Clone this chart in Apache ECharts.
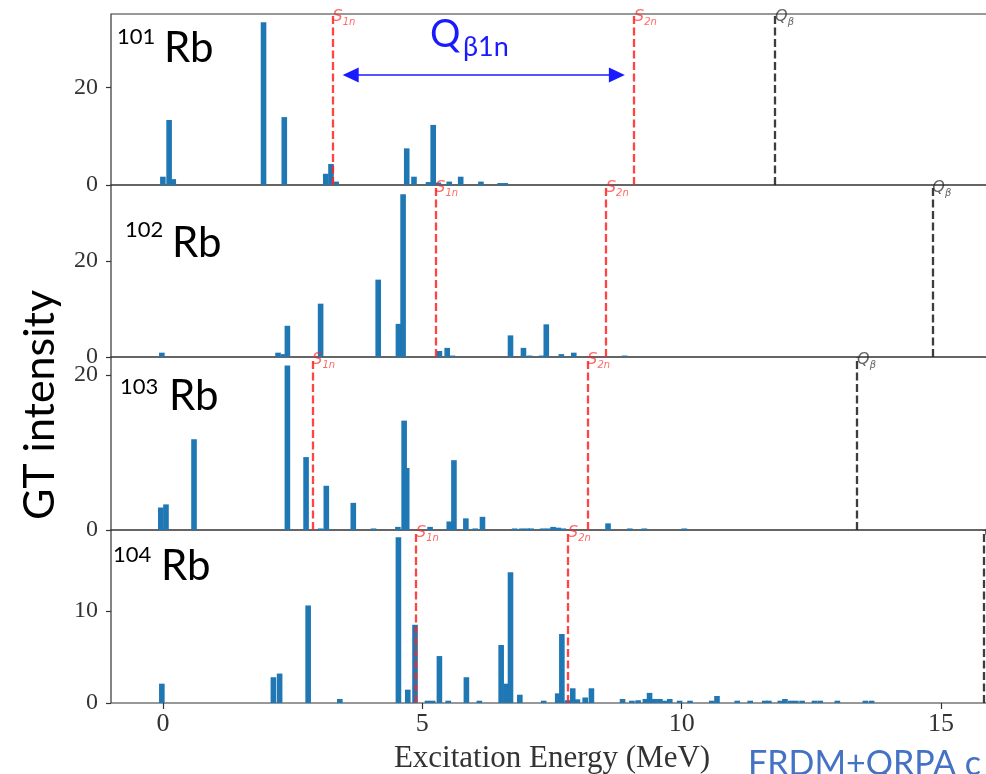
<!DOCTYPE html>
<html><head><meta charset="utf-8">
<script src="https://cdn.jsdelivr.net/npm/echarts@6/dist/echarts.min.js"></script>
<style>html,body{margin:0;padding:0;background:#fff}#c{width:986px;height:774px}</style>
</head><body><div id="c"></div>
<script>
// ---- data ----
const xTicks = [0, 5, 10, 15];
const massNumbers = ['101', '102', '103', '104'];

const rb101X = [0.0, 0.12, 0.2, 1.94, 2.34, 3.14, 3.24, 3.34, 4.70, 4.84, 5.12, 5.21, 5.31, 5.52, 5.74, 6.13, 6.50, 6.60];
const rb101Y = [1.7, 13.3, 1.2, 33.3, 13.9, 2.3, 4.3, 0.7, 7.5, 1.7, 0.6, 12.3, 0.5, 0.7, 1.7, 0.7, 0.4, 0.4];

const rb102X = [-0.02, 2.22, 2.33, 2.40, 3.04, 4.15, 4.54, 4.63, 5.33, 5.48, 5.58, 6.70, 6.95, 7.07, 7.30, 7.39, 7.68, 7.92, 8.90];
const rb102Y = [0.9, 0.9, 0.6, 6.5, 11.1, 16.1, 6.9, 33.9, 1.25, 1.9, 0.3, 4.5, 1.9, 0.3, 0.3, 6.8, 0.6, 0.9, 0.3];

const rb103X = [-0.04, 0.06, 0.60, 2.40, 2.76, 3.04, 3.15, 3.67, 4.06, 4.53, 4.65, 4.70, 5.15, 5.52, 5.61, 5.84, 6.02, 6.16, 6.78, 6.92, 7.02, 7.10, 7.32, 7.42, 7.52, 7.62, 7.72, 8.58, 9.00, 9.28, 10.05];
const rb103Y = [2.9, 3.3, 11.7, 21.2, 9.4, 0.2, 5.7, 3.5, 0.2, 0.4, 14.1, 8.0, 0.4, 1.1, 9.0, 1.5, 0.2, 1.7, 0.2, 0.2, 0.2, 0.2, 0.2, 0.2, 0.4, 0.3, 0.2, 0.86, 0.2, 0.2, 0.2];

const rb104X = [-0.02, 2.13, 2.25, 2.80, 3.41, 4.54, 4.72, 4.86, 5.10, 5.20, 5.33, 5.50, 5.85, 6.10, 6.52, 6.62, 6.70, 6.88, 7.34, 7.61, 7.69, 7.80, 7.90, 7.99, 8.14, 8.26, 8.86, 9.04, 9.16, 9.30, 9.38, 9.48, 9.58, 9.68, 9.77, 9.96, 10.16, 10.58, 10.68, 11.07, 11.32, 11.60, 11.68, 11.90, 11.99, 12.10, 12.20, 12.32, 12.56, 12.67, 13.00, 13.54, 13.66];
const rb104Y = [2.1, 2.8, 3.2, 10.6, 0.44, 18.0, 1.45, 8.5, 0.25, 0.25, 5.1, 0.25, 2.8, 0.25, 6.3, 2.1, 14.2, 0.9, 0.25, 1.05, 7.5, 0.3, 1.6, 0.4, 0.6, 1.6, 0.44, 0.25, 0.3, 0.44, 1.1, 0.44, 0.44, 0.25, 0.44, 0.25, 0.25, 0.25, 0.76, 0.25, 0.25, 0.25, 0.25, 0.25, 0.44, 0.25, 0.25, 0.25, 0.25, 0.25, 0.25, 0.25, 0.25];

const s1n = [3.27, 5.25, 2.88, 4.88];
const s2n = [9.08, 8.54, 8.18, 7.81];
const qBeta = [11.80, 14.83, 13.38, 15.83];
const yMax = [35.0, 35.8, 22.3, 18.8];
const yTicks = [[0, 20], [0, 20], [0, 20], [0, 10]];
const qb1nArrow = [3.62, 8.75, 22.5]; // from, to (MeV), height (panel 1)

// ---- layout ----
const xs = [rb101X, rb102X, rb103X, rb104X];
const ys = [rb101Y, rb102Y, rb103Y, rb104Y];
const gridTops = [14, 185, 357, 530];
const gridHeights = [171, 172, 173, 173];
const GL = 111, GW = 882;
const barColor = '#1f77b4';
const red = 'rgba(255,35,35,0.85)';
const gray = 'rgba(40,40,40,0.9)';
const serif = 'Liberation Serif';
const sans = 'Lato';

const chart = echarts.init(document.getElementById('c'), null, {renderer: 'canvas'});

const grids = [], xAxes = [], yAxes = [], series = [];
for (let i = 0; i < 4; i++) {
  grids.push({left: GL, top: gridTops[i], width: GW, height: gridHeights[i], show: true,
    borderColor: '#333', borderWidth: 1.2, backgroundColor: 'transparent',
    containLabel: false, outerBoundsMode: 'none'});
  const last = i === 3;
  xAxes.push({type: 'value', gridIndex: i, min: -1.0, max: 16.0,
    axisLine: {show: false, onZero: false}, splitLine: {show: false},
    axisTick: {show: last, inside: false, length: 6, lineStyle: {color: '#333', width: 1.2}, customValues: xTicks},
    axisLabel: {show: last, customValues: xTicks, fontFamily: serif, fontSize: 26, color: '#333', margin: 8},
    name: last ? 'Excitation Energy (MeV)' : '', nameLocation: 'middle', nameGap: 40,
    nameTextStyle: {fontFamily: serif, fontSize: 31, color: '#333'}
  });
  yAxes.push({type: 'value', gridIndex: i, min: 0, max: yMax[i],
    axisLine: {show: false, onZero: false}, splitLine: {show: false},
    axisTick: {show: true, inside: false, length: 5, lineStyle: {color: '#333', width: 1.2}, customValues: yTicks[i]},
    axisLabel: {customValues: yTicks[i], fontFamily: serif, fontSize: 24, color: '#333', margin: 13}
  });
  const mlData = [
    {xAxis: s1n[i], lineStyle: {color: red}},
    {xAxis: s2n[i], lineStyle: {color: red}},
    {xAxis: qBeta[i], lineStyle: {color: gray}}
  ];
  if (i === 0) {
    mlData.push([
      {coord: [qb1nArrow[0], qb1nArrow[2]], symbol: 'triangle', symbolSize: [15, 16], lineStyle: {color: '#1a1aff', type: 'solid', width: 1.5}},
      {coord: [qb1nArrow[1], qb1nArrow[2]], symbol: 'triangle', symbolSize: [15, 16]}
    ]);
  }
  series.push({
    type: 'bar', xAxisIndex: i, yAxisIndex: i, barWidth: 5.6,
    itemStyle: {color: barColor}, silent: true, animation: false,
    data: xs[i].map((x, k) => [x, ys[i][k]]),
    markLine: {silent: true, symbol: ['none', 'none'], animation: false,
      label: {show: false},
      lineStyle: {type: [8, 3.5], width: 2.3},
      data: mlData}
  });
  const richS = {
    a: {fontFamily: 'DejaVu Sans', fontStyle: 'italic', fontSize: 16, color: red, verticalAlign: 'bottom', padding: [0, 0, 3, 0]},
    b: {fontFamily: 'DejaVu Sans', fontStyle: 'italic', fontSize: 10, color: red, verticalAlign: 'bottom'},
    q: {fontFamily: 'DejaVu Sans', fontStyle: 'italic', fontSize: 16, color: gray, verticalAlign: 'bottom', padding: [0, 0, 3, 0]},
    p: {fontFamily: 'DejaVu Sans', fontStyle: 'italic', fontSize: 10, color: gray, verticalAlign: 'bottom'}
  };
  const labs = ['{a|S}{b|1n}', '{a|S}{b|2n}', '{q|Q}{p|β}'];
  series.push({
    type: 'scatter', xAxisIndex: i, yAxisIndex: i, symbolSize: 0, silent: true, animation: false, clip: false,
    data: [[s1n[i], yMax[i]], [s2n[i], yMax[i]], [qBeta[i], yMax[i]]],
    label: {show: true, position: 'right', distance: 0, offset: [0, 4],
      formatter: p => labs[p.dataIndex], rich: richS}
  });
}

// panel labels
const supPos = [[117, 37], [125, 230], [120, 387], [113, 555]];
const rbPos = [[164, 48], [172, 243], [169, 396], [161, 566]];
const graphics = [];
for (let i = 0; i < 4; i++) {
  graphics.push({type: 'text', x: supPos[i][0], y: supPos[i][1], silent: true,
    style: {text: massNumbers[i], fontFamily: sans, fontSize: 22, fill: '#000', align: 'left', verticalAlign: 'middle'}});
  graphics.push({type: 'text', x: rbPos[i][0], y: rbPos[i][1], silent: true,
    style: {text: 'Rb', fontFamily: sans, fontSize: 42, fill: '#000', align: 'left', verticalAlign: 'middle'}});
}
graphics.push({type: 'text', x: 430, y: 35, silent: true,
  style: {text: 'Q', fontFamily: sans, fontSize: 38, fill: '#1a1aff', align: 'left', verticalAlign: 'middle'}});
graphics.push({type: 'text', x: 463, y: 47, silent: true,
  style: {text: 'β1n', fontFamily: sans, fontSize: 27, fill: '#1a1aff', align: 'left', verticalAlign: 'middle'}});
graphics.push({type: 'text', x: 40, y: 405, rotation: Math.PI / 2, silent: true,
  style: {text: 'GT intensity', fontFamily: sans, fontSize: 43, fill: '#000', align: 'center', verticalAlign: 'middle'}});
graphics.push({type: 'text', x: 748, y: 764, silent: true,
  style: {text: 'FRDM+QRPA c', fontFamily: sans, fontSize: 34, fill: '#4472C4', align: 'left', verticalAlign: 'middle'}});

chart.setOption({
  animation: false,
  backgroundColor: '#fff',
  grid: grids, xAxis: xAxes, yAxis: yAxes, series: series,
  graphic: graphics
});
</script></body></html>
